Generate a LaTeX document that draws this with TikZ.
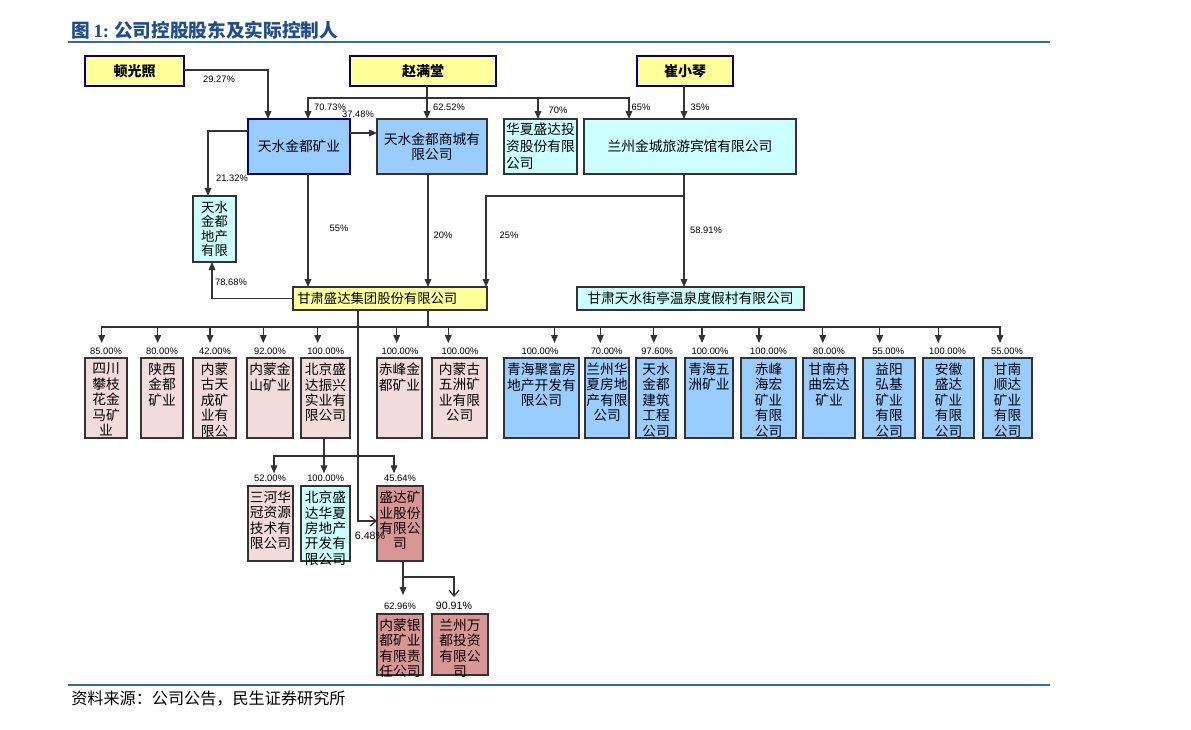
\documentclass[tikz,border=0pt]{standalone}
\usepackage{fontspec}
\setmainfont{Liberation Sans}
\newfontfamily\cjk{Noto Sans CJK SC}
\newfontfamily\serifb{Liberation Serif}
\usetikzlibrary{arrows.meta,fit}
\definecolor{yel}{HTML}{FFFF99}
\definecolor{lblue}{HTML}{99CCFF}
\definecolor{lcyan}{HTML}{CCFFFF}
\definecolor{lpink}{HTML}{F2DCDB}
\definecolor{rose}{HTML}{D99694}
\definecolor{bnavy}{HTML}{000080}
\definecolor{edge}{HTML}{333333}
\definecolor{ttl}{HTML}{1F4E8C}
\definecolor{rulec}{HTML}{2F6EAA}
\begin{document}
\begin{tikzpicture}[x=0.75pt,y=-0.75pt,
  box/.style={draw=edge, line width=1pt, inner sep=0pt, outer sep=0pt},
  ybox/.style={box, fill=yel},
  nbox/.style={ybox, draw=bnavy, line width=1.3pt},
  bbox/.style={box, fill=lblue},
  cbox/.style={box, fill=lcyan},
  pbox/.style={box, fill=lpink},
  rbox/.style={box, fill=rose},
  cjt/.style={font=\cjk\fontsize{10.3}{11.6}\selectfont},
  tl/.style={label={[anchor=north, align=center, inner sep=0pt, yshift=-3.5pt, cjt]north:#1}},
  ct/.style={label={[align=center, inner sep=0pt, cjt]center:#1}},
  bt/.style={label={[inner sep=0pt, font=\cjk\bfseries\fontsize{10.5}{12}\selectfont]center:#1}},
  conn/.style={draw=edge, line width=0.9pt},
  arr/.style={conn, -{Triangle[length=6pt,width=5pt]}},
  oarr/.style={conn, -{Straight Barb[length=4.5pt,width=7.5pt]}},
  pct/.style={font=\fontsize{7}{8}\selectfont, inner sep=0pt},
  bpct/.style={font=\fontsize{8}{9}\selectfont, inner sep=0pt}
]
\useasboundingbox (0,0) rectangle (1191,729);

% title and rules
\node[anchor=west, text=ttl, inner sep=0pt] (title) at (71,30)
  {{\cjk\bfseries\fontsize{14}{15}\selectfont 图} {\serifb\bfseries\fontsize{14}{15}\selectfont 1:} {\cjk\bfseries\fontsize{14}{15}\selectfont 公司控股股东及实际控制人}};
\draw[rulec, line width=1.5pt] (68,42) -- (1050,42);
\draw[rulec, line width=1.5pt] (68,685) -- (1050,685);
\node[anchor=west, inner sep=0pt, font=\cjk\fontsize{12.1}{13}\selectfont] (src) at (71,699) {资料来源：公司公告，民生证券研究所};

% top persons
\node[nbox, fit={(85,56) (184,86)}, bt={顿光照}] (dg) {};
\node[nbox, fit={(350,56) (496,86)}, bt={赵满堂}] (zmt) {};
\node[nbox, fit={(637,56) (733,86)}, bt={崔小琴}] (cxq) {};

% second row
\node[bbox, draw=bnavy, line width=1.3pt, fit={(248,119) (350,174)}, ct={天水金都矿业}] (ky) {};
\node[bbox, fit={(377,119) (487,174)}, ct={天水金都商城有\\限公司}] (sc) {};
\node[cbox, fit={(504,119) (577,174)}, label={[align=left, inner sep=0pt, font=\cjk\fontsize{10.3}{12.6}\selectfont]center:华夏盛达投\\资股份有限\\公司}] (hx) {};
\node[cbox, fit={(584,119) (796,174)}, ct={兰州金城旅游宾馆有限公司}] (lz) {};
\node[cbox, fit={(193,196) (236,262)}, label={[align=center, inner sep=0pt, font=\cjk\fontsize{10}{10.8}\selectfont]center:天水\\金都\\地产\\有限}] (dc) {};

% third row
\node[ybox, fit={(293,287) (487,310)}, label={[anchor=west, inner sep=0pt, xshift=3pt, font=\cjk\fontsize{10}{11}\selectfont]west:甘肃盛达集团股份有限公司}] (gs) {};
\node[cbox, fit={(577,287) (804,310)}, ct={甘肃天水街亭温泉度假村有限公司}] (jt) {};

% top connectors
\draw[arr] (dg.east |- 0,70) -| (ky.north -| 268,0);
\node[pct] (l1) at (219,79) {29.27\%};
\draw[arr] (zmt.south -| 427,0) -- (sc.north -| 427,0);
\node[pct] (l2) at (449,107) {62.52\%};
\coordinate (zb) at (427,98);
\draw[arr] (zb) -| (ky.north -| 308,0);
\node[pct] (l3) at (330,107) {70.73\%};
\draw[arr] (zb) -| (hx.north -| 538,0);
\node[pct] (l4) at (558,110) {70\%};
\draw[arr] (zb) -| (lz.north -| 629,0);
\node[pct] (l5) at (641,107) {65\%};
\draw[arr] (cxq.south -| 684,0) -- (lz.north -| 684,0);
\node[pct] (l6) at (700,107) {35\%};
\draw[arr] (ky.east |- 0,133) -- (sc.west |- 0,133);
\node[pct] (l7) at (358,114) {37.48\%};
\draw[arr] (ky.west |- 0,131) -| (dc.north -| 208,0);
\node[pct] (l8) at (232,178) {21.32\%};
\draw[arr] (ky.south -| 308,0) -- (gs.north -| 308,0);
\node[pct] (l9) at (339,228) {55\%};
\draw[arr] (sc.south -| 428,0) -- (gs.north -| 428,0);
\node[pct] (l10) at (443,235) {20\%};
\draw[arr] (lz.south -| 684,0) -- (jt.north -| 684,0);
\node[pct] (l11) at (706,230) {58.91\%};
\coordinate (lzb) at (684,196);
\draw[arr] (lzb) -| (gs.north -| 486,0);
\node[pct] (l12) at (509,235) {25\%};
\draw[arr] (gs.west) -| (dc.south -| 212,0);
\node[pct] (l13) at (231,282) {78.68\%};

% bus to subsidiaries
\coordinate (bus) at (428,327);
\draw[conn] (gs.south -| 428,0) -- (bus);

\foreach \nm/\xa/\xb/\ax/\lx/\pc/\txt in {
  p1/85/127/101.7/106/85.00\%/{四川\\攀枝\\花金\\马矿\\业},
  p2/141/183/157.7/162/80.00\%/{陕西\\金都\\矿业},
  p3/193/236/210/215/42.00\%/{内蒙\\古天\\成矿\\业有\\限公},
  p4/247/293/263.3/270/92.00\%/{内蒙金\\山矿业},
  p5/301/350/317.7/325.7/100.00\%/{北京盛\\达振兴\\实业有\\限公司},
  p6/377/422/396.7/400/100.00\%/{赤峰金\\都矿业},
  p7/432/487/448.3/460/100.00\%/{内蒙古\\五洲矿\\业有限\\公司}}{
  \node[pbox, fit={(\xa,358) (\xb,438)}, tl=\txt] (\nm) {};
  \node[pct] (l\nm) at (\lx,351) {\pc};
  \draw[arr, shorten >=11.25pt] (bus) -| (\nm.north -| \ax,0);
}

\foreach \nm/\xa/\xb/\ax/\lx/\pc/\txt in {
  b1/504/579/554.5/540/100.00\%/{青海聚富房\\地产开发有\\限公司},
  b2/585/629/600.3/606.6/70.00\%/{兰州华\\夏房地\\产有限\\公司},
  b3/636/676/653.8/657.2/97.60\%/{天水\\金都\\建筑\\工程\\公司},
  b4/685/733/702/710/100.00\%/{青海五\\洲矿业},
  b5/741/796/759/768.6/100.00\%/{赤峰\\海宏\\矿业\\有限\\公司},
  b6/803/855/822.8/829/80.00\%/{甘南舟\\曲宏达\\矿业},
  b7/863/915/879.7/888.3/55.00\%/{益阳\\弘基\\矿业\\有限\\公司},
  b8/923/974/938.3/947.6/100.00\%/{安徽\\盛达\\矿业\\有限\\公司},
  b9/983/1032/1000/1007/55.00\%/{甘南\\顺达\\矿业\\有限\\公司}}{
  \node[bbox, fit={(\xa,358) (\xb,438)}, tl=\txt] (\nm) {};
  \node[pct] (l\nm) at (\lx,351) {\pc};
  \draw[arr, shorten >=11.25pt] (bus) -| (\nm.north -| \ax,0);
}

% fourth row
\node[pbox, fit={(248,486) (293,561)}, tl={三河华\\冠资源\\技术有\\限公司}] (r1) {};
\node[cbox, fit={(301,486) (350,561)}, tl={北京盛\\达华夏\\房地产\\开发有\\限公司}] (r2) {};
\node[rbox, fit={(377,486) (423,561)}, tl={盛达矿\\业股份\\有限公\\司}] (r3) {};
\coordinate (p5b) at (324,456);
\draw[conn] (p5.south -| 324,0) -- (p5b);
\draw[arr, shorten >=9.5pt] (p5b) -| (r1.north -| 274,0);
\draw[arr, shorten >=9.5pt] (p5b) -- (r2.north -| 324,0);
\draw[arr, shorten >=9.5pt] (p5b) -| (r3.north -| 394,0);
\node[pct] (lr1) at (270,478) {52.00\%};
\node[pct] (lr2) at (325.7,478) {100.00\%};
\node[pct] (lr3) at (400,478) {45.64\%};
\draw[oarr] (gs.south -| 358,0) |- (r3.west |- 0,521);
\node[bpct] (lr0) at (370,536) {6.48\%};

% fifth row
\node[rbox, fit={(377,614) (423,675)}, tl={内蒙银\\都矿业\\有限责\\任公司}] (r4) {};
\node[rbox, fit={(432,614) (488,675)}, tl={兰州万\\都投资\\有限公\\司}] (r5) {};
\coordinate (r3b) at (403,577);
\draw[conn] (r3.south -| 403,0) -- (r3b);
\draw[arr, shorten >=14.25pt] (r3b) -- (r4.north -| 403,0);
\draw[oarr, shorten >=12.75pt] (r3b) -| (r5.north -| 454,0);
\node[pct] (lr4) at (400,606) {62.96\%};
\node[bpct] (lr5) at (454,606) {90.91\%};
\end{tikzpicture}
\end{document}
